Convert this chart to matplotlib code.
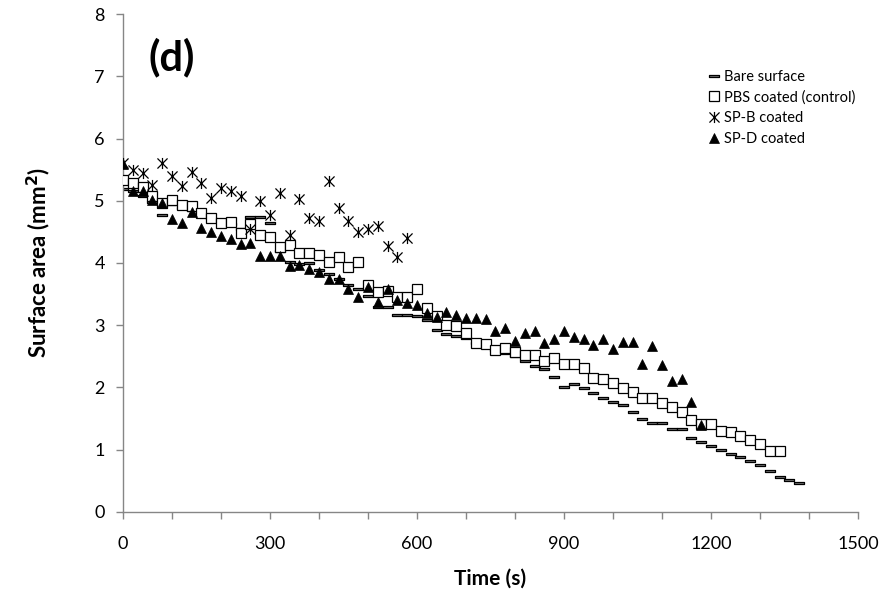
import matplotlib
matplotlib.use("Agg")
import matplotlib.pyplot as plt
import numpy as np
from matplotlib.path import Path
from matplotlib.ticker import MultipleLocator

plt.rcParams['font.family'] = ['Lato', 'DejaVu Sans']

# sampling interval of the measurements (s)
step = 20

bare_surface = [5.19, 5.15, 5.07, 4.98, 4.77, 4.95, 4.88, 4.85, 4.78, 4.72,
                4.66, 4.62, 4.55, 4.74, 4.74, 4.64, 4.20, 4.02, 3.98, 4.00,
                3.88, 3.82, 3.75, 3.65, 3.59, 3.47, 3.30, 3.30, 3.17, 3.17,
                3.15, 3.08, 2.92, 2.86, 2.83, 2.79, 2.72, 2.66, 2.60, 2.55,
                2.50, 2.42, 2.35, 2.30, 2.17, 2.01, 2.06, 1.99, 1.91, 1.83,
                1.76, 1.72, 1.61, 1.49, 1.43, 1.43, 1.34, 1.34, 1.19, 1.12,
                1.06, 1.00, 0.93, 0.89, 0.82, 0.76, 0.66, 0.56, 0.51, 0.46]

pbs_coated = [5.34, 5.28, 5.22, 5.07, 4.96, 5.01, 4.93, 4.92, 4.80, 4.72,
              4.65, 4.66, 4.48, 4.62, 4.45, 4.42, 4.26, 4.29, 4.16, 4.16,
              4.13, 4.02, 4.09, 3.94, 4.02, 3.65, 3.54, 3.55, 3.46, 3.46,
              3.58, 3.28, 3.15, 3.00, 2.99, 2.88, 2.71, 2.70, 2.60, 2.64,
              2.57, 2.52, 2.52, 2.42, 2.48, 2.38, 2.38, 2.32, 2.16, 2.13,
              2.07, 1.99, 1.93, 1.83, 1.83, 1.75, 1.68, 1.60, 1.48, 1.42,
              1.41, 1.30, 1.29, 1.22, 1.16, 1.10, 0.98, 0.98]

spb_coated = [5.60, 5.49, 5.44, 5.26, 5.61, 5.40, 5.23, 5.46, 5.29, 5.05,
              5.21, 5.16, 5.07, 4.54, 5.00, 4.77, 5.13, 4.45, 5.03, 4.73,
              4.68, 5.32, 4.89, 4.68, 4.49, 4.55, 4.60, 4.27, 4.09, 4.40]

spd_coated = [5.59, 5.15, 5.15, 5.01, 4.96, 4.70, 4.65, 4.82, 4.57, 4.50,
              4.44, 4.38, 4.31, 4.32, 4.12, 4.12, 4.12, 3.95, 3.97, 3.91,
              3.85, 3.74, 3.74, 3.58, 3.46, 3.62, 3.38, 3.58, 3.41, 3.36,
              3.33, 3.19, 3.13, 3.21, 3.16, 3.11, 3.11, 3.10, 2.91, 2.96,
              2.74, 2.88, 2.91, 2.71, 2.78, 2.90, 2.81, 2.78, 2.68, 2.78,
              2.62, 2.73, 2.73, 2.38, 2.66, 2.36, 2.10, 2.13, 1.77, 1.40]

labels = ["Bare surface", "PBS coated (control)", "SP-B coated", "SP-D coated"]

t_bare = np.arange(len(bare_surface)) * step
t_pbs = np.arange(len(pbs_coated)) * step
t_spb = np.arange(len(spb_coated)) * step
t_spd = np.arange(len(spd_coated)) * step

# Excel-style marker shapes
dash = Path([(-0.5, -0.14), (0.5, -0.14), (0.5, 0.14), (-0.5, 0.14), (-0.5, -0.14)],
            [Path.MOVETO, Path.LINETO, Path.LINETO, Path.LINETO, Path.CLOSEPOLY])
star = Path([(-0.5, -0.5), (0.5, 0.5), (-0.5, 0.5), (0.5, -0.5), (0, -0.55), (0, 0.55)],
            [Path.MOVETO, Path.LINETO, Path.MOVETO, Path.LINETO, Path.MOVETO, Path.LINETO])

fig = plt.figure(figsize=(8.87, 6.09), dpi=100)
ax = fig.add_axes([0.1387, 0.1593, 0.8286, 0.8177])

ax.plot(t_bare, bare_surface, linestyle='none', marker=dash, ms=7.6,
        mfc='#7a7a7a', mec='black', mew=0.9, label=labels[0], zorder=2)
ax.plot(t_pbs, pbs_coated, linestyle='none', marker='s', ms=7.6,
        mfc='white', mec='black', mew=0.9, label=labels[1], zorder=3)
ax.plot(t_spb, spb_coated, linestyle='none', marker=star, ms=8.0,
        mfc='none', mec='black', mew=0.9, label=labels[2], zorder=4)
ax.plot(t_spd, spd_coated, linestyle='none', marker='^', ms=7.6,
        mfc='black', mec='black', mew=0.5, label=labels[3], zorder=5)

ax.set_xlim(0, 1500)
ax.set_ylim(0, 8)
ax.xaxis.set_major_locator(MultipleLocator(300))
ax.xaxis.set_minor_locator(MultipleLocator(100))
ax.yaxis.set_major_locator(MultipleLocator(1))

for s in ['top', 'right']:
    ax.spines[s].set_visible(False)
for s in ['left', 'bottom']:
    ax.spines[s].set_color('#868686')
    ax.spines[s].set_linewidth(1.0)

ax.tick_params(axis='both', which='both', direction='out', color='#868686',
               width=1.0, labelsize=13, labelcolor='black')
ax.tick_params(axis='x', which='both', length=5, pad=12)
ax.tick_params(axis='y', which='major', length=5, pad=8)

ax.set_xlabel('Time (s)', fontsize=15, fontweight='bold', labelpad=12)
ax.set_ylabel('Surface area (mm$^\\mathbf{2}$)', fontsize=16, fontweight='bold', labelpad=30)

ax.text(100, 7.3, '(d)', fontsize=30, fontweight='bold', ha='center', va='center')

leg = ax.legend(loc='upper right', bbox_to_anchor=(1.005, 0.90), frameon=False,
                fontsize=10.5, handletextpad=0.2, handlelength=1.0,
                borderaxespad=0, labelspacing=0.45, markerscale=1.0)

fig.savefig('out.png', dpi=100)
